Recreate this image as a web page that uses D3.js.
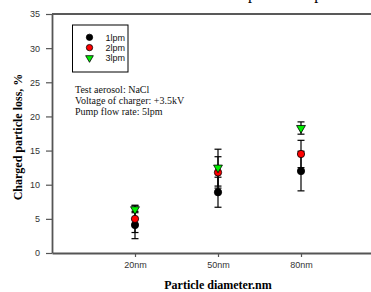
<!DOCTYPE html>
<html>
<head>
<meta charset="utf-8">
<script src="https://cdn.jsdelivr.net/npm/d3@7"></script>
<style>
  body { margin: 0; background: #fff; }
  svg { display: block; }
</style>
</head>
<body>
<div id="chart"></div>
<script>
var categories = ["20nm", "50nm", "80nm"];
var seriesNames = ["1lpm", "2lpm", "3lpm"];
var loss1 = [4.1, 8.9, 12.0];
var err1 = [2.0, 2.2, 2.9];
var loss2 = [5.0, 11.8, 14.5];
var err2 = [2.0, 2.3, 2.0];
var loss3 = [6.4, 12.5, 18.3];
var err3 = [0.5, 2.7, 0.9];
var yTicks = [0, 5, 10, 15, 20, 25, 30, 35];
var notes = ["Test aerosol: NaCl", "Voltage of charger: +3.5kV", "Pump flow rate: 5lpm"];
var titleText = "Loss of particles upon release";

var width = 371, height = 292;
var margin = {top: 14, left: 52, bottom: 39};

var svg = d3.select("#chart").append("svg")
    .attr("width", width)
    .attr("height", height);

// x: categories sit at 1,2,3 on a 0..4 axis that runs past the right edge
var xScale = d3.scaleLinear().domain([0, 4]).range([margin.left, margin.left + 4 * 83]);
var yScale = d3.scaleLinear().domain([0, 35]).range([height - margin.bottom, margin.top]);

var series = [
  {name: seriesNames[0], vals: loss1, errs: err1, fill: "#000000", shape: "circle"},
  {name: seriesNames[1], vals: loss2, errs: err2, fill: "#ff0000", shape: "circle"},
  {name: seriesNames[2], vals: loss3, errs: err3, fill: "#00ee00", shape: "triangle"}
];

var axisColor = "#555";

// top frame line
svg.append("line")
    .attr("x1", xScale(0)).attr("x2", xScale(4))
    .attr("y1", yScale(35)).attr("y2", yScale(35))
    .attr("stroke", "#222").attr("stroke-width", 1.5);

// title, mostly cut off above the picture: only the descenders show
var title = svg.append("text")
    .style("font-family", "'Liberation Serif', 'Times New Roman', serif")
    .style("font-size", "16px")
    .text(titleText);
var tNode = title.node();
var p1 = titleText.indexOf("p"), p2 = titleText.indexOf("p", p1 + 1);
var s1 = tNode.getSubStringLength(0, p1), s2 = tNode.getSubStringLength(0, p2);
var fs = Math.max(16, 16 * 62 / (s2 - s1));
title.style("font-size", fs + "px");
s1 = tNode.getSubStringLength(0, p1);
var pw = tNode.getSubStringLength(p1, 1);
title.attr("x", 250 - s1 - pw * 0.25)
    .attr("y", -1.5);

// x axis
var xAxis = d3.axisBottom(xScale)
    .tickValues([1, 2, 3])
    .tickFormat(function(d) { return categories[d - 1]; })
    .tickSize(4)
    .tickPadding(5)
    .tickSizeOuter(0);
var gx = svg.append("g")
    .attr("transform", "translate(0," + yScale(0) + ")")
    .call(xAxis);

// y axis
var yAxis = d3.axisLeft(yScale)
    .tickValues(yTicks)
    .tickSize(6)
    .tickPadding(6)
    .tickSizeOuter(0);
var gy = svg.append("g")
    .attr("transform", "translate(" + xScale(0) + ",0)")
    .call(yAxis);

[gx, gy].forEach(function(g) {
  g.select(".domain").attr("stroke", axisColor).attr("stroke-width", 1.8);
  g.selectAll(".tick line").attr("stroke", axisColor).attr("stroke-width", 1.2);
  g.selectAll(".tick text")
      .attr("fill", "#333")
      .style("font-family", "'Liberation Sans', Arial, sans-serif")
      .style("font-size", "9px");
});

// axis titles
svg.append("text")
    .attr("x", 218).attr("y", 289)
    .attr("text-anchor", "middle")
    .style("font-family", "'Liberation Serif', 'Times New Roman', serif")
    .style("font-size", "12px")
    .style("font-weight", "bold")
    .text("Particle diameter.nm");

svg.append("text")
    .attr("transform", "translate(22," + 137 + ") rotate(-90)")
    .attr("text-anchor", "middle")
    .style("font-family", "'Liberation Serif', 'Times New Roman', serif")
    .style("font-size", "12px")
    .style("font-weight", "bold")
    .text("Charged particle loss, %");

// error bars
var capW = 3.5;
series.forEach(function(s) {
  var g = svg.append("g").attr("stroke", "#000").attr("stroke-width", 1.2);
  s.vals.forEach(function(v, i) {
    var cx = xScale(i + 1);
    var lo = yScale(v - s.errs[i]), hi = yScale(v + s.errs[i]);
    g.append("line").attr("x1", cx).attr("x2", cx).attr("y1", lo).attr("y2", hi);
    g.append("line").attr("x1", cx - capW).attr("x2", cx + capW).attr("y1", lo).attr("y2", lo);
    g.append("line").attr("x1", cx - capW).attr("x2", cx + capW).attr("y1", hi).attr("y2", hi);
  });
});

// markers
function drawMarker(sel, s, x, y, k) {
  var sym = s.shape === "circle"
      ? d3.symbol().type(d3.symbolCircle).size(42 * k)
      : d3.symbol().type(d3.symbolTriangle).size(34 * k);
  sel.append("path")
      .attr("d", sym())
      .attr("transform", "translate(" + x + "," + y + ")" + (s.shape === "triangle" ? " rotate(180)" : ""))
      .attr("fill", s.fill)
      .attr("stroke", "#000")
      .attr("stroke-width", 0.8);
}
series.forEach(function(s) {
  var g = svg.append("g");
  s.vals.forEach(function(v, i) {
    drawMarker(g, s, xScale(i + 1), yScale(v), 1);
  });
});

// legend
var legend = svg.append("g");
legend.append("rect")
    .attr("x", 72.5).attr("y", 25)
    .attr("width", 55.5).attr("height", 47)
    .attr("fill", "none").attr("stroke", "#000").attr("stroke-width", 1);
series.forEach(function(s, i) {
  var ly = 37.3 + i * 10.3;
  drawMarker(legend, s, 89.5, ly, 0.75);
  legend.append("text")
      .attr("x", 105.5).attr("y", ly + 3.3)
      .style("font-family", "'Liberation Sans', Arial, sans-serif")
      .style("font-size", "9px")
      .attr("fill", "#111")
      .text(s.name);
});

// test conditions note
svg.append("g").selectAll("text")
    .data(notes)
    .enter().append("text")
    .attr("x", 75)
    .attr("y", function(d, i) { return 92.5 + i * 11; })
    .style("font-family", "'Liberation Serif', 'Times New Roman', serif")
    .style("font-size", "10px")
    .attr("fill", "#111")
    .text(function(d) { return d; });
</script>
</body>
</html>
